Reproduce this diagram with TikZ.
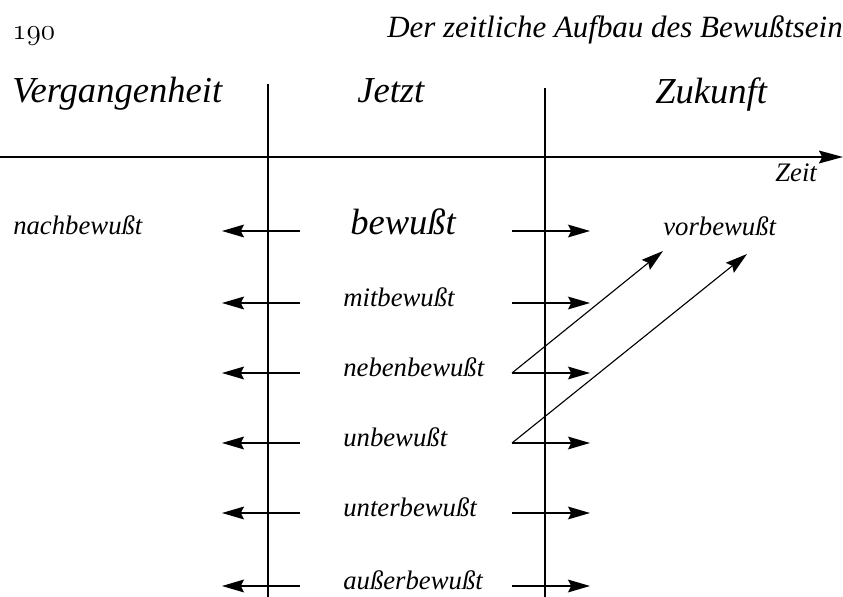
\documentclass[tikz,border=0pt]{standalone}
\usepackage{fontspec}
\setmainfont{Liberation Serif}
\usetikzlibrary{arrows.meta,positioning}

\begin{document}
\begin{tikzpicture}[x=0.025cm,y=-0.025cm]
    \tikzset{head/.style={font=\fontsize{26}{30}\selectfont\itshape,inner sep=0pt,anchor=base west},
      row/.style={font=\fontsize{19}{22}\selectfont\itshape,inner sep=0pt,anchor=mid west},
      arr/.style={line width=1pt,-{Stealth[length=5.5mm,width=3.2mm,inset=0.8mm]}},
      rule/.style={line width=0.8pt}}
    \useasboundingbox (0,0) rectangle (843,597);
    \node[inner sep=0pt,anchor=base west,font=\fontsize{21}{24}\usefont{OML}{cmm}{m}{it}] (page) at (12,40) {190};
    \node[inner sep=0pt,anchor=base east,font=\fontsize{22}{26}\selectfont\itshape] (title) at (843,38) {Der zeitliche Aufbau des Bewußtsein};
    \node[head] (past) at (12,103) {Vergangenheit};
    \node[head] (now) at (357,103) {Jetzt};
    \node[head] (future) at (655,104) {Zukunft};
    \coordinate (t0) at (0,157);
    \coordinate (t1) at (843,157);
    \draw[line width=1.2pt,-{Stealth[length=6mm,width=3.2mm,inset=0.8mm]}] (t0) -- (t1);
    \node[inner sep=0pt,anchor=base west,font=\fontsize{19}{22}\selectfont\itshape] (time) at (775,182) {Zeit};
    \coordinate (v1) at (268,84);
    \coordinate (v1e) at (268,597);
    \coordinate (v2) at (545,88);
    \coordinate (v2e) at (545,597);
    \draw[rule] (v1) -- (v1e);
    \draw[rule] (v2) -- (v2e);
    \node[row] (after) at (13,231) {nachbewußt};
    \node[row] (before) at (663,232) {vorbewußt};
    \node[row,font=\fontsize{26}{30}\selectfont\itshape] (a) at (350,231) {bewußt};
    \node[row] (b) at (343,303) {mitbewußt};
    \node[row] (c) at (343,373) {nebenbewußt};
    \node[row] (d) at (343,443) {unbewußt};
    \node[row] (e) at (343,513) {unterbewußt};
    \node[row] (f) at (343,586) {außerbewußt};
    \coordinate (a-l) at (300,231); \coordinate (a-lt) at (222,231);
    \coordinate (a-r) at (512,231); \coordinate (a-rt) at (590,231);
    \coordinate (b-l) at (300,303); \coordinate (b-lt) at (222,303);
    \coordinate (b-r) at (512,303); \coordinate (b-rt) at (590,303);
    \coordinate (c-l) at (300,373); \coordinate (c-lt) at (222,373);
    \coordinate (c-r) at (512,373); \coordinate (c-rt) at (590,373);
    \coordinate (d-l) at (300,443); \coordinate (d-lt) at (222,443);
    \coordinate (d-r) at (512,443); \coordinate (d-rt) at (590,443);
    \coordinate (e-l) at (300,513); \coordinate (e-lt) at (222,513);
    \coordinate (e-r) at (512,513); \coordinate (e-rt) at (590,513);
    \coordinate (f-l) at (300,586); \coordinate (f-lt) at (222,586);
    \coordinate (f-r) at (512,586); \coordinate (f-rt) at (590,586);
    \draw[arr] (a-l) -- (a-lt); \draw[arr] (a-r) -- (a-rt);
    \draw[arr] (b-l) -- (b-lt); \draw[arr] (b-r) -- (b-rt);
    \draw[arr] (c-l) -- (c-lt); \draw[arr] (c-r) -- (c-rt);
    \draw[arr] (d-l) -- (d-lt); \draw[arr] (d-r) -- (d-rt);
    \draw[arr] (e-l) -- (e-lt); \draw[arr] (e-r) -- (e-rt);
    \draw[arr] (f-l) -- (f-lt); \draw[arr] (f-r) -- (f-rt);
    \coordinate (up1) at (663,251);
    \coordinate (up2) at (747,254);
    \draw[arr,line width=0.8pt] (c-r) -- (up1);
    \draw[arr,line width=0.8pt] (d-r) -- (up2);
  \end{tikzpicture}
\end{document}
